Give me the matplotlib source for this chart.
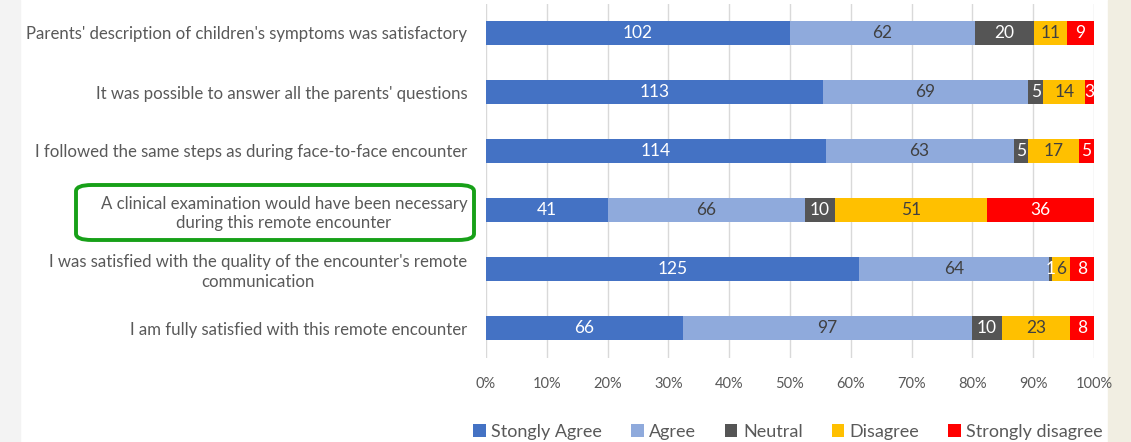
import numpy as np
import matplotlib.pyplot as plt
from matplotlib.patches import FancyBboxPatch, Rectangle

# data, top row first
questions = [
    "Parents' description of children's symptoms was satisfactory",
    "It was possible to answer all the parents' questions",
    "I followed the same steps as during face-to-face encounter",
    "A clinical examination would have been necessary\nduring this remote encounter",
    "I was satisfied with the quality of the encounter's remote\ncommunication",
    "I am fully satisfied with this remote encounter",
]
series_names = ["Stongly Agree", "Agree", "Neutral", "Disagree", "Strongly disagree"]
strongly_agree = [102, 113, 114, 41, 125, 66]
agree = [62, 69, 63, 66, 64, 97]
neutral = [20, 5, 5, 10, 1, 10]
disagree = [11, 14, 17, 51, 6, 23]
strongly_disagree = [9, 3, 5, 36, 8, 8]

colors = ["#4472C4", "#8FAADC", "#555555", "#FFC000", "#FF0000"]
text_colors = ["white", "#404040", "white", "#404040", "white"]

plt.rcParams["font.family"] = ["Lato", "DejaVu Sans"]

fig = plt.figure(figsize=(11.31, 4.42), dpi=100)
fig.patches.append(Rectangle((0, 0), 20 / 1131, 1, transform=fig.transFigure,
                             color="#f3f3f3", zorder=-1))
fig.patches.append(Rectangle((1108 / 1131, 0), 23 / 1131, 1, transform=fig.transFigure,
                             color="#f1eee2", zorder=-1))
ax = fig.add_axes([486 / 1131, 1 - 357.5 / 442, 608 / 1131, 354 / 442])

data = np.array([strongly_agree, agree, neutral, disagree, strongly_disagree], dtype=float)
totals = data.sum(axis=0)
pct = data / totals
y = np.arange(len(questions))
left = np.zeros(len(questions))
for i, name in enumerate(series_names):
    ax.barh(y, pct[i], left=left, height=0.39, color=colors[i], label=name, zorder=2)
    for j in range(len(questions)):
        ax.text(left[j] + pct[i][j] / 2, y[j], f"{int(data[i][j])}",
                ha="center", va="center", color=text_colors[i], fontsize=12.5, zorder=3)
    left += pct[i]

ax.set_ylim(len(questions) - 0.5, -0.5)
ax.set_xlim(0, 1)
ax.set_xticks(np.arange(0, 1.01, 0.1))
ax.set_xticklabels([f"{int(round(v * 100))}%" for v in np.arange(0, 1.01, 0.1)],
                   color="#595959", fontsize=10.5)
ax.set_yticks(y)
ax.set_yticklabels(questions, color="#595959", fontsize=12.1, linespacing=1.3)
for lbl in ax.get_yticklabels():
    lbl.set_multialignment("center")
ax.tick_params(length=0, pad=14)
ax.tick_params(axis="y", pad=13.5)
ax.xaxis.grid(True, color="#d9d9d9", lw=1, zorder=0)
for s in ax.spines.values():
    s.set_visible(False)

# green box around the highlighted question
box = FancyBboxPatch((76 / 1131, 1 - 240 / 442), 398 / 1131, 55 / 442,
                     boxstyle="round,pad=0,rounding_size=0.014",
                     transform=fig.transFigure, fill=False,
                     edgecolor="#17a018", lw=2.8)
fig.patches.append(box)

fig.legend(loc="center", bbox_to_anchor=(788 / 1131, 1 - 432 / 442), ncol=5,
           frameon=False, fontsize=13, handlelength=0.7, handleheight=0.7,
           handletextpad=0.3, columnspacing=1.6, labelcolor="#595959")

fig.savefig("out.png", dpi=100, facecolor="white")
